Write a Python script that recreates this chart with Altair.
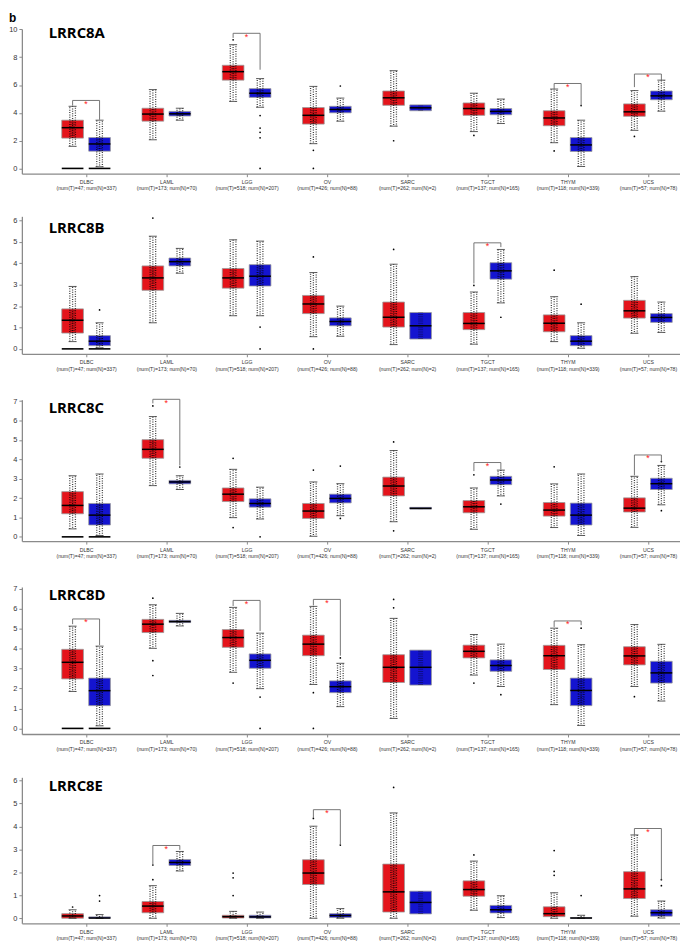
import altair as alt
import pandas as pd

CANCERS = ["DLBC", "LAML", "LGG", "OV", "SARC", "TGCT", "THYM", "UCS"]
N_LABELS = ["(num(T)=47; num(N)=337)", "(num(T)=173; num(N)=70)",
            "(num(T)=518; num(N)=207)", "(num(T)=426; num(N)=88)",
            "(num(T)=262; num(N)=2)", "(num(T)=137; num(N)=165)",
            "(num(T)=118; num(N)=339)", "(num(T)=57; num(N)=78)"]
GENES = ["LRRC8A", "LRRC8B", "LRRC8C", "LRRC8D", "LRRC8E"]

# per cancer: [lower whisker, q1, median, q3, upper whisker]  (None = no whisker)
A_T = [[1.59, 2.18, 2.93, 3.47, 4.47], [2.06, 3.40, 3.91, 4.33, 5.67], [4.82, 6.35, 6.96, 7.42, 8.90],
       [1.78, 3.19, 3.82, 4.38, 5.90], [3.04, 4.54, 5.08, 5.57, 7.03], [2.65, 3.82, 4.31, 4.71, 5.41],
       [1.85, 3.07, 3.63, 4.15, 5.71], [2.74, 3.75, 4.07, 4.64, 5.60]]
A_N = [[0.12, 1.24, 1.76, 2.22, 3.47], [3.47, 3.77, 3.93, 4.10, 4.33], [4.40, 5.11, 5.41, 5.74, 6.46],
       [3.40, 4.00, 4.24, 4.47, 5.06], [None, 4.15, 4.36, 4.57, None], [3.23, 3.86, 4.10, 4.31, 4.99],
       [0.14, 1.22, 1.69, 2.22, 3.47], [4.12, 4.94, 5.22, 5.57, 6.35]]
B_T = [[0.34, 0.74, 1.34, 1.87, 2.92], [1.22, 2.74, 3.32, 3.88, 5.27], [1.55, 2.84, 3.32, 3.76, 5.10],
       [0.57, 1.65, 2.10, 2.50, 3.57], [0.20, 1.02, 1.48, 2.19, 3.96], [0.22, 0.90, 1.19, 1.70, 2.66],
       [0.34, 0.80, 1.20, 1.59, 2.44], [0.73, 1.44, 1.78, 2.27, 3.38]]
B_N = [[0.05, 0.15, 0.36, 0.62, 1.22], [3.54, 3.88, 4.08, 4.25, 4.70], [1.55, 2.94, 3.40, 3.94, 5.04],
       [0.59, 1.08, 1.28, 1.45, 2.00], [None, 0.46, 1.08, 1.70, None], [2.15, 3.26, 3.65, 4.03, 4.65],
       [0.03, 0.15, 0.36, 0.62, 1.22], [0.77, 1.24, 1.47, 1.65, 2.19]]
C_T = [[0.41, 1.19, 1.62, 2.33, 3.15], [2.64, 4.05, 4.51, 5.01, 6.20], [0.99, 1.82, 2.20, 2.52, 3.48],
       [0.03, 0.95, 1.33, 1.72, 2.83], [0.78, 2.11, 2.62, 3.08, 4.45], [0.39, 1.24, 1.55, 1.87, 2.52],
       [0.48, 1.07, 1.38, 1.77, 2.73], [0.49, 1.28, 1.48, 2.01, 3.12]]
C_N = [[0.07, 0.61, 1.12, 1.72, 3.24], [2.44, 2.73, 2.83, 2.91, 3.15], [0.92, 1.53, 1.72, 1.96, 2.56],
       [1.09, 1.75, 1.98, 2.20, 2.74], [None, 1.43, 1.47, 1.52, None], [2.11, 2.69, 2.93, 3.12, 3.44],
       [0.07, 0.61, 1.12, 1.74, 3.24], [1.65, 2.44, 2.74, 3.02, 3.68]]
D_T = [[1.85, 2.48, 3.31, 3.96, 5.12], [4.01, 4.80, 5.22, 5.46, 6.19], [2.81, 4.06, 4.55, 4.95, 6.06],
       [2.20, 3.64, 4.22, 4.67, 6.11], [0.50, 2.30, 3.06, 3.69, 5.51], [2.67, 3.53, 3.86, 4.17, 4.70],
       [1.19, 2.95, 3.64, 4.16, 5.02], [2.10, 3.18, 3.63, 4.09, 5.20]]
D_N = [[0.13, 1.14, 1.89, 2.52, 4.12], [5.13, 5.30, 5.35, 5.41, 5.76], [1.99, 3.01, 3.41, 3.73, 4.77],
       [1.09, 1.79, 2.09, 2.38, 3.26], [None, 2.17, 3.06, 3.92, None], [2.10, 2.86, 3.15, 3.43, 4.22],
       [0.15, 1.14, 1.90, 2.52, 4.19], [1.37, 2.27, 2.78, 3.36, 4.21]]
E_T = [[0.00, 0.00, 0.10, 0.20, 0.37], [0.00, 0.24, 0.53, 0.73, 1.42], [0.00, 0.01, 0.07, 0.13, 0.30],
       [0.00, 1.47, 1.97, 2.55, 4.01], [0.00, 0.27, 1.15, 2.36, 4.59], [0.35, 0.96, 1.25, 1.63, 2.49],
       [0.00, 0.07, 0.20, 0.50, 1.11], [0.09, 0.86, 1.28, 2.03, 3.63]]
E_N = [[0.00, 0.00, 0.01, 0.06, 0.16], [2.06, 2.30, 2.43, 2.56, 2.91], [0.00, 0.01, 0.06, 0.13, 0.27],
       [0.00, 0.03, 0.12, 0.20, 0.42], [None, 0.19, 0.69, 1.18, None], [0.03, 0.23, 0.37, 0.56, 0.98],
       [0.00, 0.00, 0.01, 0.03, 0.13], [0.01, 0.09, 0.24, 0.37, 0.75]]
TUMOR = [A_T, B_T, C_T, D_T, E_T]
NORMAL = [A_N, B_N, C_N, D_N, E_N]

# outlying points: (cancer index 1..8, group, value)
A_OUT = [(3, "T", 9.25), (3, "N", 3.8), (3, "N", 2.9), (3, "N", 2.6), (3, "N", 2.2), (3, "N", 0.0),
         (4, "T", 0.0), (4, "T", 1.3), (4, "N", 5.93), (5, "T", 1.99), (6, "T", 2.37), (7, "T", 1.26),
         (7, "N", 4.52), (8, "T", 2.3)]
B_OUT = [(1, "N", 1.82), (2, "T", 6.12), (3, "N", 1.02), (3, "N", 0.0), (4, "T", 4.3), (4, "T", 0.0),
         (5, "T", 4.65), (6, "T", 2.97), (6, "N", 1.48), (7, "T", 3.68), (7, "N", 2.09)]
C_OUT = [(2, "T", 6.75), (2, "N", 3.6), (3, "T", 0.48), (3, "T", 4.05), (3, "N", 0.0), (4, "T", 3.44),
         (4, "N", 3.65), (4, "N", 0.95), (5, "T", 4.89), (5, "T", 0.31), (6, "T", 3.2), (6, "N", 1.69),
         (7, "T", 3.61), (8, "N", 3.88), (8, "N", 1.35)]
D_OUT = [(2, "T", 6.52), (2, "T", 3.39), (2, "T", 2.65), (3, "T", 2.27), (3, "N", 1.57), (3, "N", 0.0),
         (4, "T", 0.0), (4, "T", 1.79), (4, "N", 3.53), (5, "T", 6.46), (5, "T", 6.04), (6, "T", 2.27),
         (6, "N", 1.69), (7, "N", 5.02), (8, "T", 1.59)]
E_OUT = [(1, "T", 0.49), (1, "N", 0.99), (1, "N", 0.75), (2, "T", 2.32), (2, "T", 1.68), (3, "T", 1.97),
         (3, "T", 1.76), (3, "T", 0.99), (4, "T", 4.35), (4, "N", 3.19), (5, "T", 5.7), (6, "T", 2.76),
         (7, "T", 2.95), (7, "T", 2.04), (7, "T", 1.87), (7, "N", 0.99), (8, "N", 1.42), (8, "N", 1.68)]
OUTLIERS = [A_OUT, B_OUT, C_OUT, D_OUT, E_OUT]

# samples piled at zero (DLBC), per gene: cancer indices
ZERO_PILES = [[1], [1], [1], [1], []]

# significance brackets: (cancer index, bracket top, tumor leg end, normal leg end)
A_SIG = [(1, 4.89, 4.52, 3.50), (3, 9.72, 9.39, 7.10), (7, 6.11, 5.71, 4.52), (8, 6.79, 5.85, 6.35)]
B_SIG = [(6, 4.96, 3.06, 4.76)]
C_SIG = [(2, 7.09, 6.88, 3.68), (6, 3.83, 3.39, 3.47), (8, 4.22, 3.17, 3.88)]
D_SIG = [(1, 5.48, 5.22, 4.17), (3, 6.41, 6.13, 4.88), (4, 6.46, 6.16, 3.64), (7, 5.38, 5.08, 5.17)]
E_SIG = [(2, 3.17, 2.33, 2.98), (4, 4.73, 4.37, 3.19), (8, 3.91, 3.63, 1.68)]
SIGS = [A_SIG, B_SIG, C_SIG, D_SIG, E_SIG]

Y_DOMAINS = [[-0.38, 10.03], [-0.23, 6.2], [-0.22, 7.07], [-0.28, 7.08], [-0.22, 6.14]]
Y_TICKS = [[0, 2, 4, 6, 8, 10], [0, 1, 2, 3, 4, 5, 6], [0, 1, 2, 3, 4, 5, 6, 7],
           [0, 1, 2, 3, 4, 5, 6, 7], [0, 1, 2, 3, 4, 5, 6]]
HEIGHTS = [146, 138.7, 142.7, 148.3, 147.3]
TITLE_Y = [9.3, 16.7, 13.7, 12.6, 14.3]

RED = "#E4141B"
BLUE = "#1414D0"
DODGE = 0.168
HALF_BOX = 0.135
HALF_CAP = 0.05

label_expr = "[" + ",".join(f"['{c}','{n}']" for c, n in zip(CANCERS, N_LABELS)) + "][datum.value - 1]"

XSCALE = alt.Scale(domain=[0.2, 8.4], nice=False, zero=False)
XAXIS = alt.Axis(values=list(range(1, 9)), labelExpr=label_expr, grid=False,
                 domainColor="#8a8a8a", domainWidth=1.3, tickColor="#8a8a8a", tickSize=3,
                 labelFontSize=5.2, labelLineHeight=6.4, labelPadding=3, labelColor="#333333",
                 labelFont="Liberation Sans", labelOverlap=False)


def X(field):
    return alt.X(field, scale=XSCALE, title=None, axis=XAXIS)


def panel(k):
    rows = []
    for i in range(len(CANCERS)):
        for grp, stats in (("T", TUMOR[k][i]), ("N", NORMAL[k][i])):
            lw, q1, md, q3, uw = stats
            rows.append(dict(idx=i + 1, grp=grp, lw=lw, q1=q1, md=md, q3=q3, uw=uw))
    df = pd.DataFrame(rows)
    yscale = alt.Scale(domain=Y_DOMAINS[k], nice=False, zero=False)
    yaxis = alt.Axis(values=Y_TICKS[k], grid=False, format="d", labelOverlap=False,
                     domainColor="#8a8a8a", domainWidth=1.3, tickColor="#8a8a8a", tickSize=3,
                     labelFontSize=7.5, labelPadding=2, labelColor="#333333",
                     labelFont="Liberation Sans")

    def Y(field):
        return alt.Y(field, scale=yscale, title=None, axis=yaxis)

    pos = "datum.idx + (datum.grp == 'T' ? -%g : %g)" % (DODGE, DODGE)
    base = alt.Chart(df).transform_calculate(
        xc=pos,
        xl=f"datum.xc - {HALF_BOX}", xr=f"datum.xc + {HALF_BOX}",
        cl=f"datum.xc - {HALF_CAP}", cr=f"datum.xc + {HALF_CAP}",
        s1="datum.xc - 0.035", s2="datum.xc + 0.035",
    )
    color = alt.Color("grp:N", scale=alt.Scale(domain=["T", "N"], range=[RED, BLUE]), legend=None)

    box = base.mark_rect(stroke="#9a9a9a", strokeWidth=0.8).encode(
        x=X("xl:Q"), x2="xr:Q", y=Y("q1:Q"), y2="q3:Q", fill=color)
    whisk = base.transform_filter("datum.lw != null")
    # stippled strips standing in for the jittered sample clouds
    strips = []
    for xf, off in (("s1", 0.0), ("xc", 1.2), ("s2", 0.6)):
        strips.append(whisk.mark_rule(color="black", strokeWidth=1.3, opacity=0.75,
                                      strokeDash=[1, 1.4], strokeDashOffset=off).encode(
            x=X(f"{xf}:Q"), y=Y("lw:Q"), y2="uw:Q"))
    dense = base.mark_rule(color="black", strokeWidth=5, opacity=0.35,
                           strokeDash=[1, 1.2]).encode(
        x=X("xc:Q"), y=Y("q1:Q"), y2="q3:Q")
    cap_hi = whisk.mark_rule(color="#333333", strokeWidth=0.8).encode(
        x=X("cl:Q"), x2="cr:Q", y=Y("uw:Q"))
    cap_lo = whisk.mark_rule(color="#333333", strokeWidth=0.8).encode(
        x=X("cl:Q"), x2="cr:Q", y=Y("lw:Q"))
    med = base.mark_rule(color="black", strokeWidth=1.5).encode(
        x=X("xl:Q"), x2="xr:Q", y=Y("md:Q"))
    layers = [box] + strips + [dense, cap_hi, cap_lo, med]

    zero_idx = ZERO_PILES[k]
    if zero_idx:
        zdf = pd.DataFrame([dict(idx=i, grp=g, v=0.0) for i in zero_idx for g in ("T", "N")])
        layers.append(alt.Chart(zdf).transform_calculate(
            xc=pos, xl=f"datum.xc - {HALF_BOX}", xr=f"datum.xc + {HALF_BOX}").mark_rule(
            color="black", strokeWidth=1.6).encode(
            x=X("xl:Q"), x2="xr:Q", y=Y("v:Q")))

    odf = pd.DataFrame(OUTLIERS[k], columns=["idx", "grp", "v"])
    layers.append(alt.Chart(odf).transform_calculate(xc=pos).mark_circle(
        color="black", size=3, opacity=1).encode(x=X("xc:Q"), y=Y("v:Q")))

    sdf = pd.DataFrame(SIGS[k], columns=["idx", "top", "lt", "ln"])
    sig = alt.Chart(sdf).transform_calculate(
        xt=f"datum.idx - {DODGE}", xn=f"datum.idx + {DODGE}", star="'*'")
    layers.append(sig.mark_rule(color="#666666", strokeWidth=0.9).encode(
        x=X("xt:Q"), x2="xn:Q", y=Y("top:Q")))
    layers.append(sig.mark_rule(color="#666666", strokeWidth=0.9).encode(
        x=X("xt:Q"), y=Y("lt:Q"), y2="top:Q"))
    layers.append(sig.mark_rule(color="#666666", strokeWidth=0.9).encode(
        x=X("xn:Q"), y=Y("ln:Q"), y2="top:Q"))
    layers.append(sig.mark_text(color="#FF1A1A", fontSize=9, baseline="middle", dy=3.5,
                                font="Liberation Sans").encode(
        x=X("idx:Q"), y=Y("top:Q"), text="star:N"))

    layers.append(alt.Chart(pd.DataFrame({"g": [GENES[k]]})).mark_text(
        font="Open Sans", fontWeight="bold", fontSize=15, align="left",
        baseline="alphabetic", color="black").encode(
        text="g:N", x=alt.value(27), y=alt.value(TITLE_Y[k])))
    if k == 0:
        layers.append(alt.Chart(pd.DataFrame({"g": ["b"]})).mark_text(
            font="Liberation Sans", fontWeight="bold", fontSize=12, align="left",
            baseline="top", color="black").encode(
            text="g:N", x=alt.value(-13), y=alt.value(-16)))

    return alt.layer(*layers).properties(width=664, height=HEIGHTS[k])


chart = alt.vconcat(*[panel(k) for k in range(5)], spacing=25).properties(
    padding={"left": 0, "top": 0, "right": 0, "bottom": 0},
    background="white",
).configure_view(stroke=None)

chart.save("out.html", embed_options={"renderer": "svg", "actions": False})
